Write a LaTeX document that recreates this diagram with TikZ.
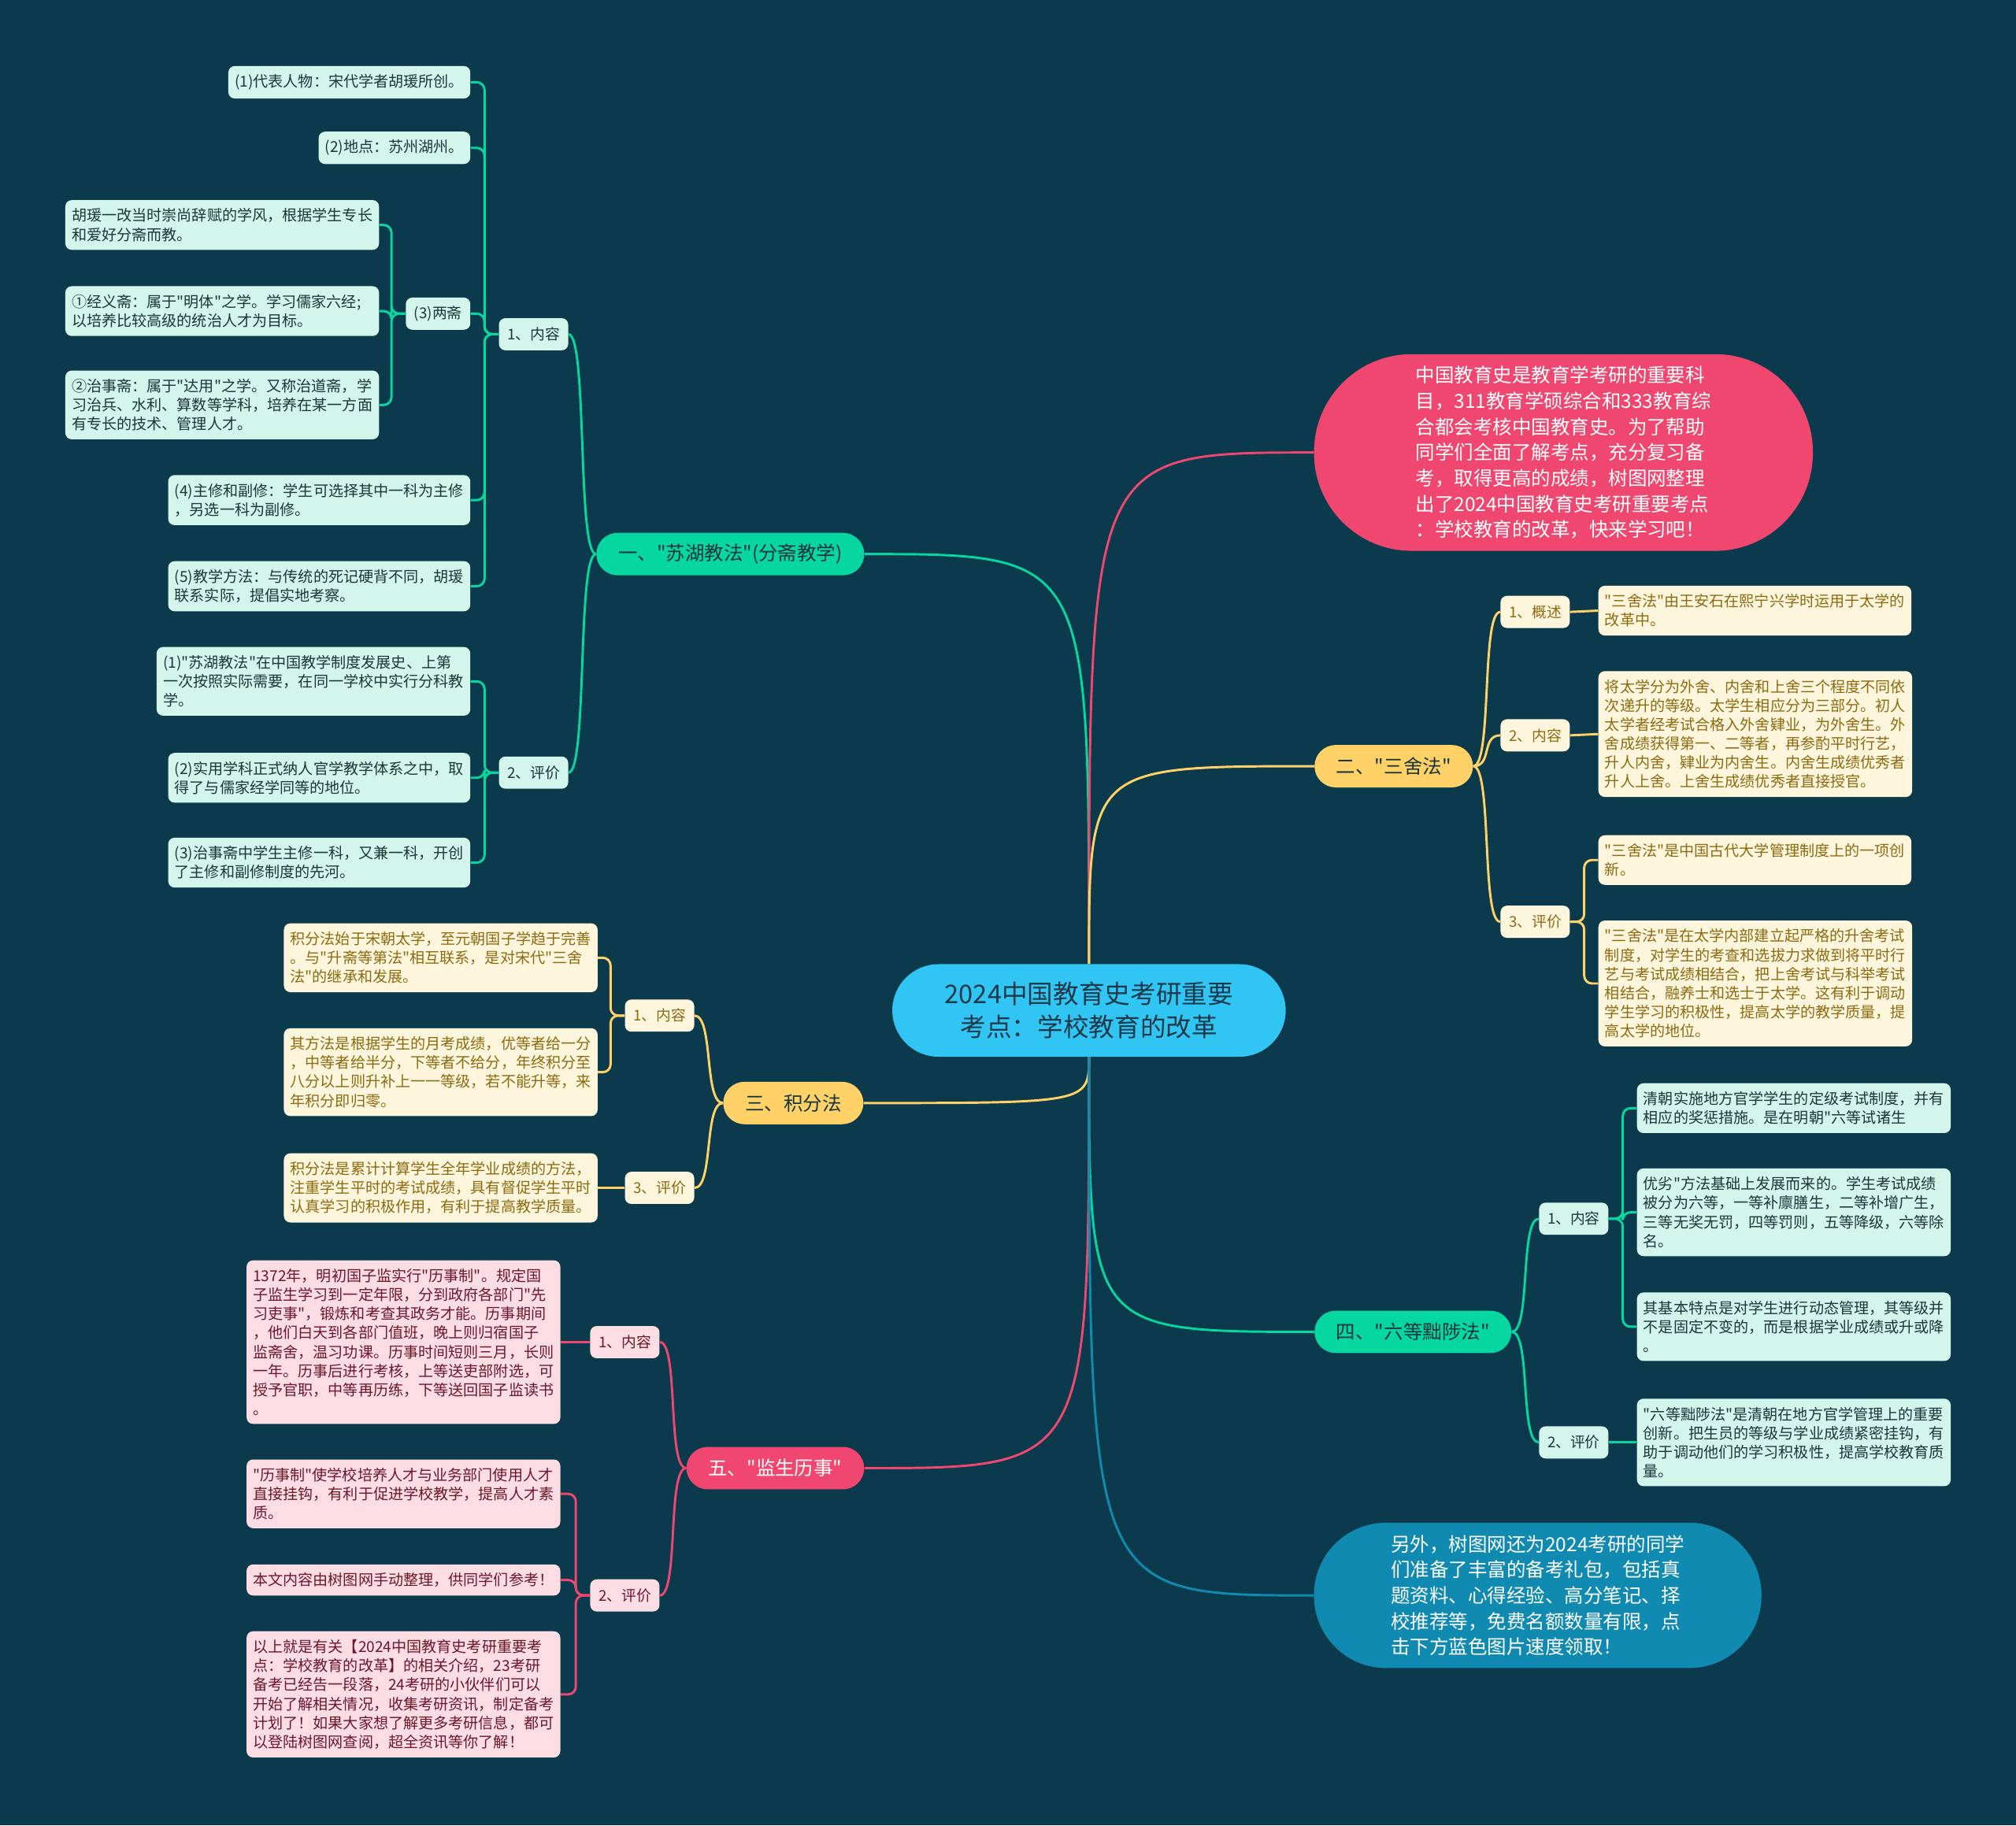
\documentclass[tikz,border=0pt]{standalone}
\usepackage{fontspec}
\setmainfont{Noto Sans CJK SC}[Ligatures=TeXOff]

\begin{document}
\begin{tikzpicture}[
    x=1pt, y=-1pt,
    root/.style={
        fill=colRoot, text=colRootText, rounded corners=36pt,
        minimum width=306pt, minimum height=72pt,
        align=center, font=\fontsize{20}{26}\selectfont
    },
    topic/.style={
        rounded corners=16.5pt, minimum height=33pt, inner xsep=17pt,
        font=\fontsize{15}{18}\selectfont
    },
    sub/.style={
        rounded corners=5pt, minimum height=25pt, inner xsep=6.5pt, inner ysep=2pt,
        font=\fontsize{11.5}{14.8}\selectfont
    },
    leaf/.style={
        rounded corners=5pt, align=left, inner xsep=5pt, inner ysep=6.5pt,
        font=\fontsize{11.7}{14.8}\selectfont
    },
    gtopic/.style={topic, fill=colGreen, text=colDarkText},
    ytopic/.style={topic, fill=colYellow, text=colDarkText},
    ptopic/.style={topic, fill=colPink, text=white},
    gsub/.style={sub, fill=colGreenLeaf, text=colGreenText},
    ysub/.style={sub, fill=colYellowLeaf, text=colYellowText},
    psub/.style={sub, fill=colPinkLeaf, text=colPinkText},
    gleaf/.style={leaf, fill=colGreenLeaf, text=colGreenText},
    yleaf/.style={leaf, fill=colYellowLeaf, text=colYellowText},
    pleaf/.style={leaf, fill=colPinkLeaf, text=colPinkText},
    note/.style={align=left, text=white, font=\fontsize{15}{20}\selectfont},
    gline/.style={draw=colGreen, line width=1.8pt},
    yline/.style={draw=colYellow, line width=1.8pt},
    pline/.style={draw=colPink, line width=1.8pt},
    bline/.style={draw=colBlue, line width=1.8pt}
]

% ============================
% COLOR DEFINITIONS
% ============================
\definecolor{colBg}{HTML}{0A3A4B}          % dark teal background
\definecolor{colRoot}{HTML}{30C5F3}        % light blue
\definecolor{colRootText}{HTML}{1D3A4A}
\definecolor{colDarkText}{HTML}{17353B}
\definecolor{colGreen}{HTML}{06D6A0}       % green
\definecolor{colGreenLeaf}{HTML}{D3F5EC}
\definecolor{colGreenText}{HTML}{1D3638}
\definecolor{colYellow}{HTML}{FFD166}      % yellow
\definecolor{colYellowLeaf}{HTML}{FEF6DC}
\definecolor{colYellowText}{HTML}{8C6A12}
\definecolor{colPink}{HTML}{EF476F}        % pink
\definecolor{colPinkLeaf}{HTML}{FCDDE4}
\definecolor{colPinkText}{HTML}{6B1828}
\definecolor{colBlue}{HTML}{118AB2}        % blue

\fill[colBg] (0,0) rectangle (1568,1420);

% ============================
% CENTRE AND NOTES
% ============================
\node[root] (root) at (847,786) {2024中国教育史考研重要\\考点：学校教育的改革};

\node[note, fill=colPink, rounded corners=76pt, minimum width=388pt, minimum height=153pt] (intro) at (1216,352)
    {中国教育史是教育学考研的重要科\\目，311教育学硕综合和333教育综\\合都会考核中国教育史。为了帮助\\同学们全面了解考点，充分复习备\\考，取得更高的成绩，树图网整理\\出了2024中国教育史考研重要考点\\：学校教育的改革，快来学习吧！};

\node[note, fill=colBlue, rounded corners=56pt, minimum width=348pt, minimum height=113pt] (outro) at (1196,1241)
    {另外，树图网还为2024考研的同学\\们准备了丰富的备考礼包，包括真\\题资料、心得经验、高分笔记、择\\校推荐等，免费名额数量有限，点\\击下方蓝色图片速度领取！};

% ============================
% 一、苏湖教法 (left, top)
% ============================
\node[gtopic] (t1) at (568,431) {一、"苏湖教法"(分斋教学)};
\node[gsub] (t1a) at (415,260) {1、内容};
\node[gsub] (t1b) at (415,601) {2、评价};

\node[gleaf, anchor=east] (t1a1) at (366,64) {(1)代表人物：宋代学者胡瑗所创。};
\node[gleaf, anchor=east] (t1a2) at (366,115) {(2)地点：苏州湖州。};
\node[gsub, anchor=east] (t1a3) at (366,244) {(3)两斋};
\node[gleaf, anchor=east] (t1a3a) at (295,175) {胡瑗一改当时崇尚辞赋的学风，根据学生专长\\和爱好分斋而教。};
\node[gleaf, anchor=east, text width=234pt] (t1a3b) at (295,242) {①经义斋：属于"明体"之学。学习儒家六经;\\以培养比较高级的统治人才为目标。};
\node[gleaf, anchor=east] (t1a3c) at (295,315) {②治事斋：属于"达用"之学。又称治道斋，学\\习治兵、水利、算数等学科，培养在某一方面\\有专长的技术、管理人才。};
\node[gleaf, anchor=east] (t1a4) at (366,389) {(4)主修和副修：学生可选择其中一科为主修\\，另选一科为副修。};
\node[gleaf, anchor=east] (t1a5) at (366,456) {(5)教学方法：与传统的死记硬背不同，胡瑗\\联系实际，提倡实地考察。};

\node[gleaf, anchor=east] (t1b1) at (366,530) {(1)"苏湖教法"在中国教学制度发展史、上第\\一次按照实际需要，在同一学校中实行分科教\\学。};
\node[gleaf, anchor=east] (t1b2) at (366,605) {(2)实用学科正式纳人官学教学体系之中，取\\得了与儒家经学同等的地位。};
\node[gleaf, anchor=east] (t1b3) at (366,671) {(3)治事斋中学生主修一科，又兼一科，开创\\了主修和副修制度的先河。};

% ============================
% 二、三舍法 (right, top)
% ============================
\node[ytopic] (t2) at (1084,596) {二、"三舍法"};
\node[ysub] (t2a) at (1194,476) {1、概述};
\node[ysub] (t2b) at (1194,572) {2、内容};
\node[ysub] (t2c) at (1194,717) {3、评价};

\node[yleaf, anchor=west] (t2a1) at (1243,475) {"三舍法"由王安石在熙宁兴学时运用于太学的\\改革中。};
\node[yleaf, anchor=west] (t2b1) at (1243,571) {将太学分为外舍、内舍和上舍三个程度不同依\\次递升的等级。太学生相应分为三部分。初人\\太学者经考试合格入外舍肄业，为外舍生。外\\舍成绩获得第一、二等者，再参酌平时行艺，\\升人内舍，肄业为内舍生。内舍生成绩优秀者\\升人上舍。上舍生成绩优秀者直接授官。};
\node[yleaf, anchor=west] (t2c1) at (1243,669) {"三舍法"是中国古代大学管理制度上的一项创\\新。};
\node[yleaf, anchor=west] (t2c2) at (1243,765) {"三舍法"是在太学内部建立起严格的升舍考试\\制度，对学生的考查和选拔力求做到将平时行\\艺与考试成绩相结合，把上舍考试与科举考试\\相结合，融养士和选士于太学。这有利于调动\\学生学习的积极性，提高太学的教学质量，提\\高太学的地位。};

% ============================
% 三、积分法 (left, middle)
% ============================
\node[ytopic] (t3) at (617,858) {三、积分法};
\node[ysub] (t3a) at (513,790) {1、内容};
\node[ysub] (t3b) at (513,924) {3、评价};

\node[yleaf, anchor=east] (t3a1) at (465,745) {积分法始于宋朝太学，至元朝国子学趋于完善\\。与"升斋等第法"相互联系，是对宋代"三舍\\法"的继承和发展。};
\node[yleaf, anchor=east] (t3a2) at (465,834) {其方法是根据学生的月考成绩，优等者给一分\\，中等者给半分，下等者不给分，年终积分至\\八分以上则升补上一一等级，若不能升等，来\\年积分即归零。};
\node[yleaf, anchor=east] (t3b1) at (465,924) {积分法是累计计算学生全年学业成绩的方法，\\注重学生平时的考试成绩，具有督促学生平时\\认真学习的积极作用，有利于提高教学质量。};

% ============================
% 四、六等黜陟法 (right, bottom)
% ============================
\node[gtopic] (t4) at (1099,1036) {四、"六等黜陟法"};
\node[gsub] (t4a) at (1224,948) {1、内容};
\node[gsub] (t4b) at (1224,1122) {2、评价};

\node[gleaf, anchor=west] (t4a1) at (1273,862) {清朝实施地方官学学生的定级考试制度，并有\\相应的奖惩措施。是在明朝"六等试诸生};
\node[gleaf, anchor=west] (t4a2) at (1273,943) {优劣"方法基础上发展而来的。学生考试成绩\\被分为六等，一等补廪膳生，二等补增广生，\\三等无奖无罚，四等罚则，五等降级，六等除\\名。};
\node[gleaf, anchor=west] (t4a3) at (1273,1032) {其基本特点是对学生进行动态管理，其等级并\\不是固定不变的，而是根据学业成绩或升或降\\。};
\node[gleaf, anchor=west] (t4b1) at (1273,1122) {"六等黜陟法"是清朝在地方官学管理上的重要\\创新。把生员的等级与学业成绩紧密挂钩，有\\助于调动他们的学习积极性，提高学校教育质\\量。};

% ============================
% 五、监生历事 (left, bottom)
% ============================
\node[ptopic] (t5) at (603,1142) {五、"监生历事"};
\node[psub] (t5a) at (486,1044) {1、内容};
\node[psub] (t5b) at (486,1241) {2、评价};

\node[pleaf, anchor=east] (t5a1) at (436,1044) {1372年，明初国子监实行"历事制"。规定国\\子监生学习到一定年限，分到政府各部门"先\\习吏事"，锻炼和考查其政务才能。历事期间\\，他们白天到各部门值班，晚上则归宿国子\\监斋舍，温习功课。历事时间短则三月，长则\\一年。历事后进行考核，上等送吏部附选，可\\授予官职，中等再历练，下等送回国子监读书\\。};
\node[pleaf, anchor=east] (t5b1) at (436,1162) {"历事制"使学校培养人才与业务部门使用人才\\直接挂钩，有利于促进学校教学，提高人才素\\质。};
\node[pleaf, anchor=east] (t5b2) at (436,1229) {本文内容由树图网手动整理，供同学们参考！};
\node[pleaf, anchor=east] (t5b3) at (436,1318) {以上就是有关【2024中国教育史考研重要考\\点：学校教育的改革】的相关介绍，23考研\\备考已经告一段落，24考研的小伙伴们可以\\开始了解相关情况，收集考研资讯，制定备考\\计划了！如果大家想了解更多考研信息，都可\\以登陆树图网查阅，超全资讯等你了解！};

% ============================
% CONNECTORS
% ============================
% centre to topics
\draw[gline] (root.north) .. controls (root.north |- t1.east) .. (t1.east);
\draw[pline] (root.north) .. controls (root.north |- intro.west) .. (intro.west);
\draw[yline] (root.north) .. controls (root.north |- t2.west) .. (t2.west);
\draw[yline] (root.south) .. controls (root.south |- t3.east) .. (t3.east);
\draw[gline] (root.south) .. controls (root.south |- t4.west) .. (t4.west);
\draw[pline] (root.south) .. controls (root.south |- t5.east) .. (t5.east);
\draw[bline] (root.south) .. controls (root.south |- outro.west) .. (outro.west);

% topics to sub topics
\foreach \n in {t1a,t1b}
    \draw[gline] (t1.west) .. controls +(-15,0) and +(15,0) .. (\n.east);
\foreach \n in {t2a,t2b,t2c}
    \draw[yline] (t2.east) .. controls +(15,0) and +(-15,0) .. (\n.west);
\foreach \n in {t3a,t3b}
    \draw[yline] (t3.west) .. controls +(-15,0) and +(15,0) .. (\n.east);
\foreach \n in {t4a,t4b}
    \draw[gline] (t4.east) .. controls +(15,0) and +(-15,0) .. (\n.west);
\foreach \n in {t5a,t5b}
    \draw[pline] (t5.west) .. controls +(-15,0) and +(15,0) .. (\n.east);

% sub topics to leaves
\foreach \n in {t1a1,t1a2,t1a3,t1a4,t1a5}
    \draw[gline, rounded corners=6pt] (t1a.west) -- ++(-11,0) |- (\n.east);
\foreach \n in {t1a3a,t1a3b,t1a3c}
    \draw[gline, rounded corners=6pt] (t1a3.west) -- ++(-11,0) |- (\n.east);
\foreach \n in {t1b1,t1b2,t1b3}
    \draw[gline, rounded corners=6pt] (t1b.west) -- ++(-11,0) |- (\n.east);

\draw[yline] (t2a.east) -- (t2a1.west);
\draw[yline] (t2b.east) -- (t2b1.west);
\foreach \n in {t2c1,t2c2}
    \draw[yline, rounded corners=6pt] (t2c.east) -- ++(11,0) |- (\n.west);

\foreach \n in {t3a1,t3a2}
    \draw[yline, rounded corners=6pt] (t3a.west) -- ++(-11,0) |- (\n.east);
\draw[yline] (t3b.west) -- (t3b1.east);

\foreach \n in {t4a1,t4a2,t4a3}
    \draw[gline, rounded corners=6pt] (t4a.east) -- ++(11,0) |- (\n.west);
\draw[gline] (t4b.east) -- (t4b1.west);

\draw[pline] (t5a.west) -- (t5a1.east);
\foreach \n in {t5b1,t5b2,t5b3}
    \draw[pline, rounded corners=6pt] (t5b.west) -- ++(-11,0) |- (\n.east);

\end{tikzpicture}
\end{document}
